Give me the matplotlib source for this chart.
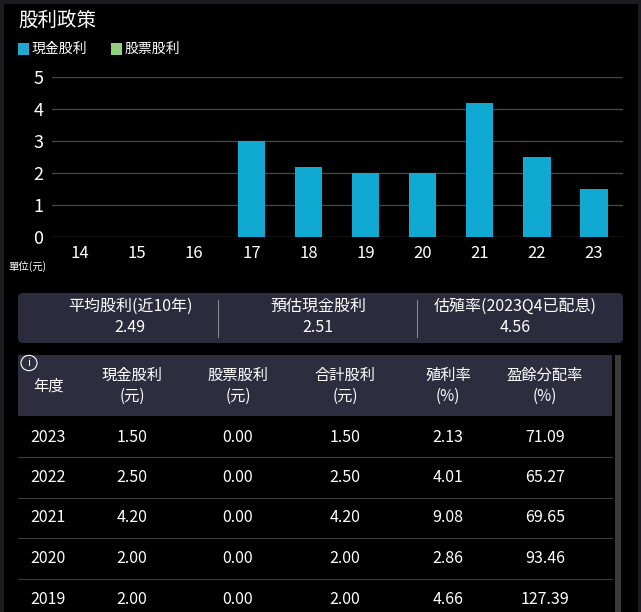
import matplotlib
matplotlib.use("Agg")
import matplotlib.pyplot as plt
from matplotlib import font_manager
from matplotlib.patches import Rectangle, FancyBboxPatch

names = {f.name for f in font_manager.fontManager.ttflist}
cjk = next((n for n in ["Noto Sans CJK TC", "Noto Sans CJK JP", "Noto Sans CJK SC", "Noto Sans CJK KR"] if n in names), "DejaVu Sans")
plt.rcParams["font.family"] = [cjk, "DejaVu Sans"]

years = ["14", "15", "16", "17", "18", "19", "20", "21", "22", "23"]
cash = [0, 0, 0, 3.0, 2.2, 2.0, 2.0, 4.2, 2.5, 1.5]
stock = [0, 0, 0, 0, 0, 0, 0, 0, 0, 0]
yticks = [0, 1, 2, 3, 4, 5]

summary_labels = ["平均股利(近10年)", "預估現金股利", "估殖率(2023Q4已配息)"]
summary_values = ["2.49", "2.51", "4.56"]

headers = ["年度", "現金股利\n(元)", "股票股利\n(元)", "合計股利\n(元)", "殖利率\n(%)", "盈餘分配率\n(%)"]
rows = [
    ["2023", "1.50", "0.00", "1.50", "2.13", "71.09"],
    ["2022", "2.50", "0.00", "2.50", "4.01", "65.27"],
    ["2021", "4.20", "0.00", "4.20", "9.08", "69.65"],
    ["2020", "2.00", "0.00", "2.00", "2.86", "93.46"],
    ["2019", "2.00", "0.00", "2.00", "4.66", "127.39"],
]

W, H = 641, 612
fig = plt.figure(figsize=(W / 100, H / 100), dpi=100)
fig.patch.set_facecolor("#1c1c20")

def fx(x): return x / W
def fy(y): return 1 - y / H

def rect(x0, y0, x1, y1, color, round_=False, z=-5):
    if round_:
        p = FancyBboxPatch((fx(x0), fy(y1)), fx(x1 - x0), (y1 - y0) / H,
                           boxstyle="round,pad=0,rounding_size=0.008",
                           transform=fig.transFigure, facecolor=color, edgecolor="none", zorder=z)
    else:
        p = Rectangle((fx(x0), fy(y1)), fx(x1 - x0), (y1 - y0) / H,
                      transform=fig.transFigure, facecolor=color, edgecolor="none", zorder=z)
    fig.add_artist(p)

rect(4, 4, 638, 612, "#000000", z=-10)

def txt(x, y, s, size=11, ha="center", color="white", **kw):
    fig.text(fx(x), fy(y), s, fontsize=size, ha=ha, va="center", color=color, **kw)

txt(18, 20, "股利政策", size=14, ha="left")
rect(18, 43, 29, 55, "#1fa8d0")
txt(32, 49, "現金股利", size=10, ha="left")
rect(111, 43, 122, 55, "#93d07e")
txt(125, 49, "股票股利", size=10, ha="left")

ax = fig.add_axes([fx(51.5), fy(237), fx(622.5 - 51.5), (237 - 77) / H])
ax.set_facecolor("#000000")
ax.set_zorder(2)
xs = range(len(years))
ax.bar(xs, cash, width=0.48, color="#10a9d2", zorder=3)
ax.bar(xs, stock, width=0.48, bottom=cash, color="#93d07e", zorder=3)
ax.set_xlim(-0.5, len(years) - 0.5)
ax.set_ylim(0, 5)
ax.set_yticks(yticks)
ax.set_xticks(list(xs))
ax.set_xticklabels(years)
ax.tick_params(colors="white", labelsize=12, length=0)
ax.tick_params(axis="y", pad=6)
ax.tick_params(axis="x", pad=6)
for lab in ax.get_yticklabels():
    lab.set_fontsize(13)
ax.grid(axis="y", color="#444444", lw=1, zorder=0)
for s in ax.spines.values():
    s.set_visible(False)
txt(8, 266, "單位(元)", size=7.5, ha="left")

rect(18, 293, 623, 343, "#2b2b3d", round_=True)
cx = [130, 318, 515]
for c, l, v in zip(cx, summary_labels, summary_values):
    txt(c, 306, l, size=11.5)
    txt(c, 327, v, size=11.5)
for x in [218, 417]:
    fig.add_artist(plt.Line2D([fx(x), fx(x)], [fy(300), fy(337)], color="#888888", lw=0.8,
                              transform=fig.transFigure))

rect(18, 355, 612, 416, "#2d2d40")
colx = [48, 132, 238, 345, 448, 545]
txt(29, 363, "i", size=8)
fig.add_artist(plt.Circle((fx(29), fy(363)), 8 / W, transform=fig.transFigure,
                          fill=False, edgecolor="white", lw=0.8))
for c, h in zip(colx, headers):
    txt(c, 386, h, size=11, linespacing=1.3)

step = 40.5
for i, r in enumerate(rows):
    y = 437 + i * step
    for c, v in zip(colx, r):
        txt(c, y, v, size=11.5)
    if i < len(rows) - 1:
        fig.add_artist(plt.Line2D([fx(18), fx(612)], [fy(y + step / 2), fy(y + step / 2)], color="#3a3a3a",
                                  lw=0.8, transform=fig.transFigure))

rect(615, 355, 621, 612, "#3a3a3a")

fig.savefig("out.png", dpi=100, facecolor=fig.get_facecolor())
